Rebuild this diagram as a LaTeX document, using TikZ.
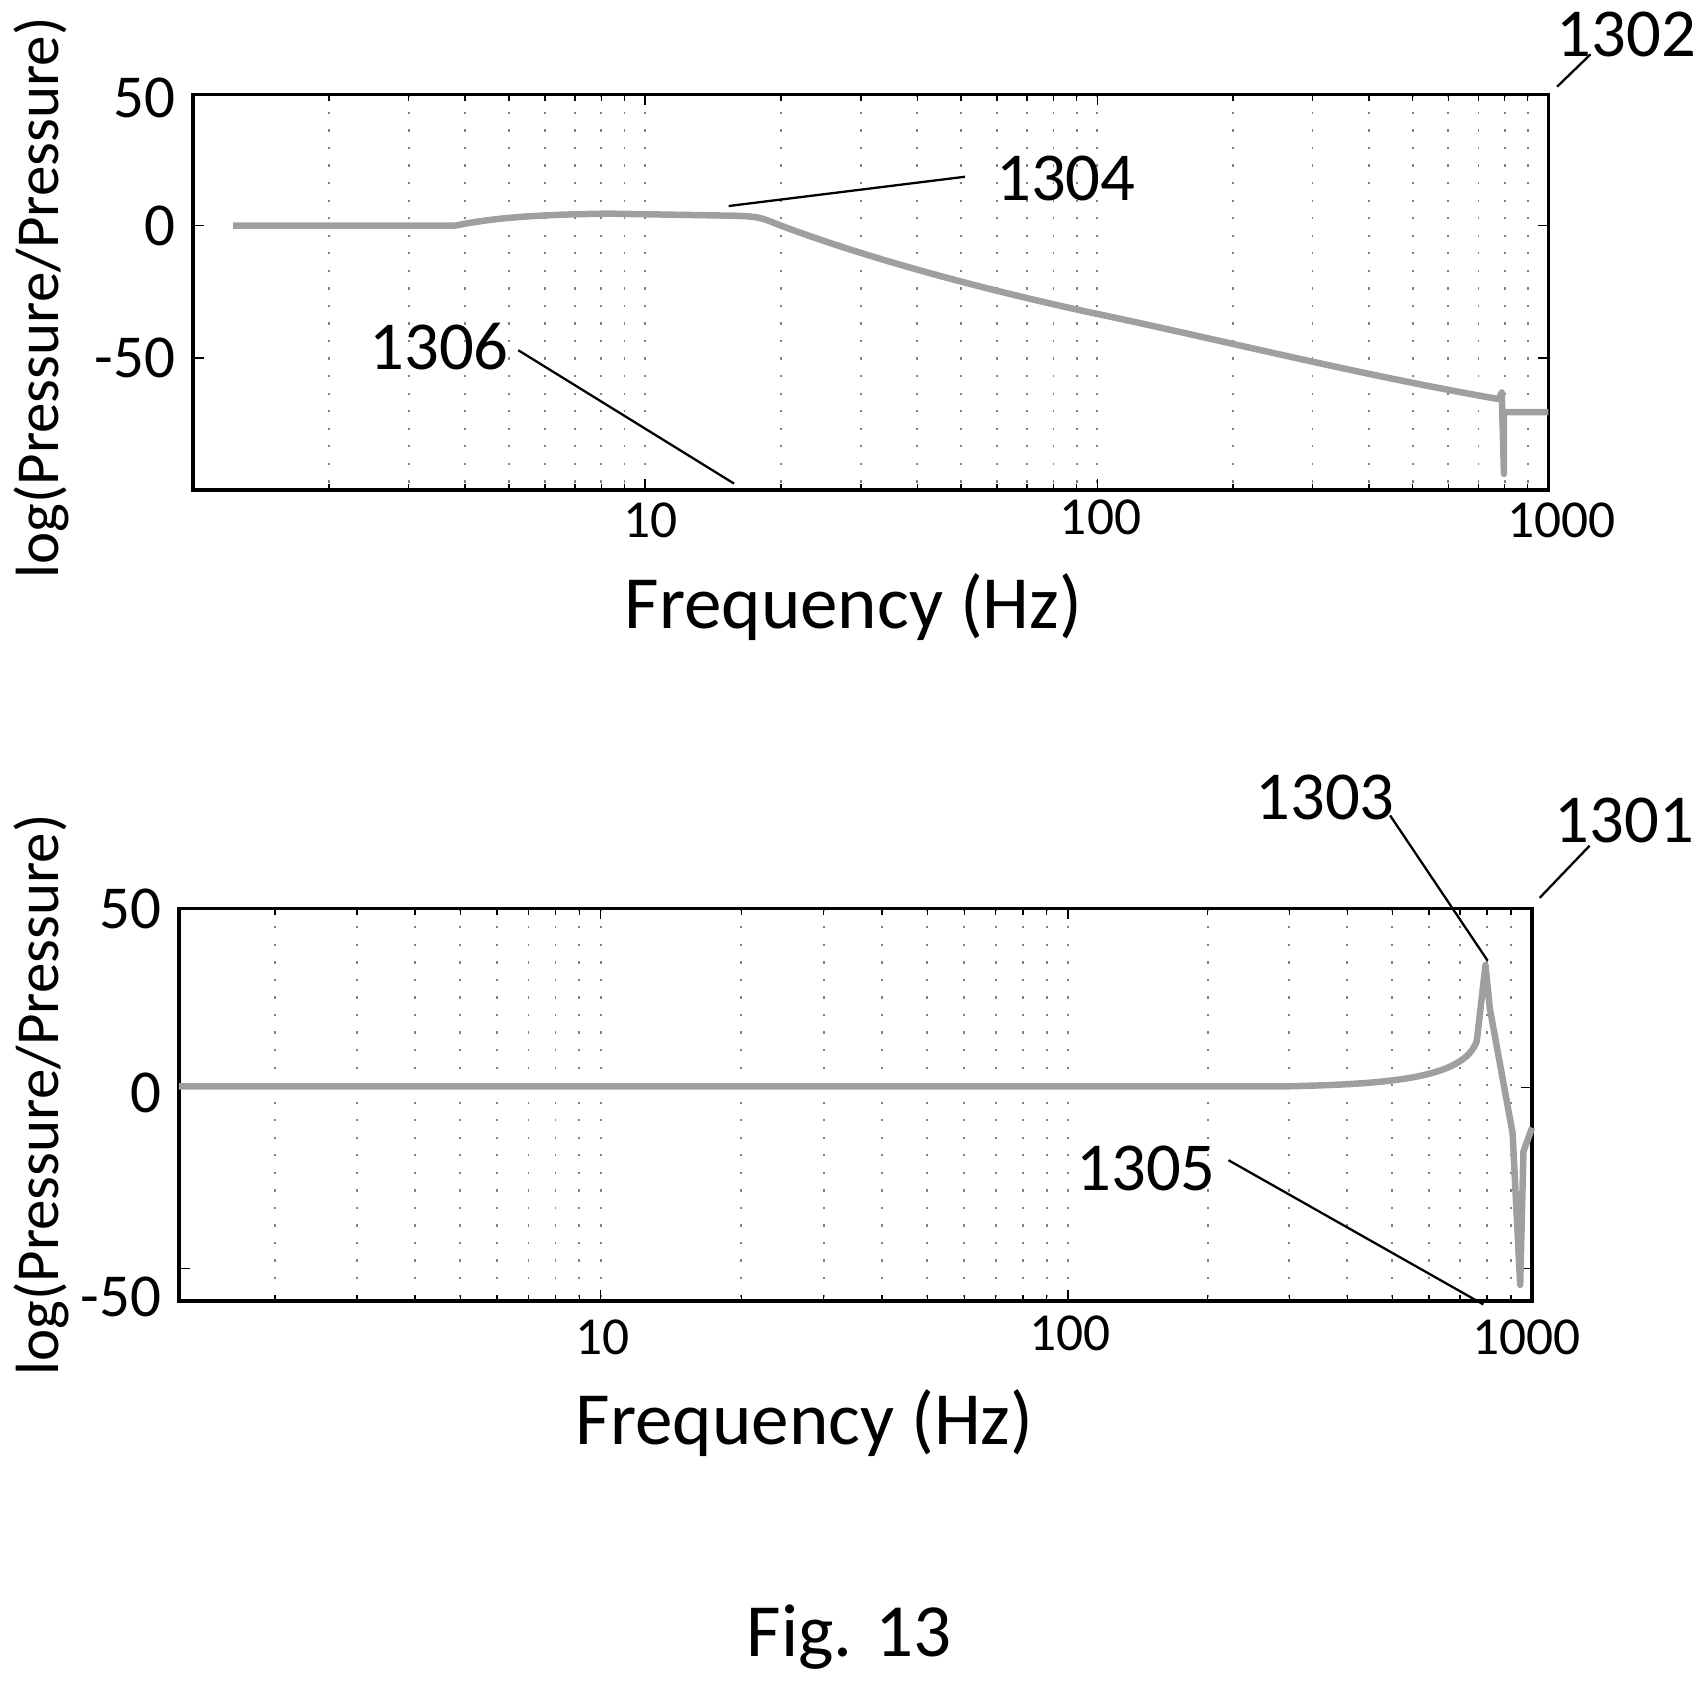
\documentclass[tikz,border=0pt]{standalone}
\usepackage{fontspec}
\setmainfont{Carlito}
\begin{document}
\begin{tikzpicture}[x=0.01cm,y=-0.01cm,
  curve/.style={line width=1.7pt,gray!75,line join=round},
  grid/.style={dash pattern=on 0.6pt off 4pt,gray,line width=0.5pt},
  lead/.style={line width=0.6pt},
  big/.style={font=\fontsize{18}{20}\selectfont},
  tick/.style={font=\fontsize{16}{18}\selectfont},
  xt/.style={font=\fontsize{14}{16}\selectfont},
  axl/.style={font=\fontsize{19.7}{22}\selectfont}]
\useasboundingbox (0,0) rectangle (1566,1551);
% ---------- top plot
\foreach \d/\w in {178/417,595/417,1012/416}{
  \foreach \m in {2,...,9}{
    \draw[grid] ({\d+\w*log10(\m)},87) -- ({\d+\w*log10(\m)},452);
    \draw ({\d+\w*log10(\m)},87) -- ++(0,6) ({\d+\w*log10(\m)},452) -- ++(0,-6);}}
\foreach \x in {595,1012}{\draw[grid] (\x,87)--(\x,452); \draw (\x,87)--++(0,10) (\x,452)--++(0,-10);}
\foreach \y in {208,330}{\draw (178,\y)--++(10,0) (1428,\y)--++(-10,0);}
\draw[line width=0.9pt] (178,87) rectangle (1428,452);
\node[tick,anchor=east] (t50) at (174,90) {50};
\node[tick,anchor=east] (t0) at (174,208) {0};
\node[tick,anchor=east] (tm50) at (174,330) {-50};
\node[xt] (x10) at (600,480) {10};
\node[xt] (x100) at (1015,477) {100};
\node[xt] (x1000) at (1440,480) {1000};
\node[axl] (xl) at (787,560) {Frequency (Hz)};
\node[tick,rotate=90] (yl) at (38,275) {log(Pressure/Pressure)};
\draw[curve] (215,208) -- (420,208) .. controls (460,200) and (500,198) .. (560,197)
  -- (680,199) .. controls (700,200) .. (720,208) .. controls (800,238) and (900,265) .. (1000,287)
  .. controls (1120,312) and (1250,345) .. (1382,368) -- (1385,362) -- (1387,437) -- (1387,380) -- (1428,380);
\node[big] (n1302) at (1500,32) {1302};
\coordinate (c1302) at (1436,80);
\draw[lead] (1467,50) -- (c1302);
\node[big] (n1304) at (983,165) {1304};
\coordinate (c1304) at (672,190);
\draw[lead] (890,163) -- (c1304);
\node[big] (n1306) at (405,320) {1306};
\coordinate (c1306) at (677,446);
\draw[lead] (478,323) -- (c1306);
% ---------- bottom plot
\foreach \d/\w in {124/430,554/431,985/428}{
  \foreach \m in {2,...,9}{
    \draw[grid] ({\d+\w*log10(\m)},838) -- ({\d+\w*log10(\m)},1200);
    \draw ({\d+\w*log10(\m)},838) -- ++(0,6) ({\d+\w*log10(\m)},1200) -- ++(0,-6);}}
\foreach \x in {554,985}{\draw[grid] (\x,838)--(\x,1200); \draw (\x,838)--++(0,10) (\x,1200)--++(0,-10);}
\foreach \y in {1003,1170}{\draw (165,\y)--++(10,0) (1413,\y)--++(-10,0);}
\draw[line width=0.9pt] (165,838) rectangle (1413,1200);
\node[tick,anchor=east] (b50) at (161,838) {50};
\node[tick,anchor=east] (b0) at (161,1008) {0};
\node[tick,anchor=east] (bm50) at (161,1196) {-50};
\node[xt] (bx10) at (556,1233) {10};
\node[xt] (bx100) at (987,1230) {100};
\node[xt] (bx1000) at (1408,1233) {1000};
\node[axl] (bxl) at (742,1312) {Frequency (Hz)};
\node[tick,rotate=90] (byl) at (38,1010) {log(Pressure/Pressure)};
\draw[curve] (165,1002) -- (1180,1002) .. controls (1280,1000) and (1350,995) .. (1362,960)
  -- (1370,890) -- (1374,930) -- (1395,1045) -- (1402,1185) -- (1405,1062) -- (1413,1040);
\node[big] (n1303) at (1222,735) {1303};
\coordinate (c1303) at (1372,886);
\draw[lead] (1282,752) -- (c1303);
\node[big] (n1301) at (1498,757) {1301};
\coordinate (c1301) at (1420,828);
\draw[lead] (1466,780) -- (c1301);
\node[big] (n1305) at (1057,1078) {1305};
\coordinate (c1305) at (1368,1203);
\draw[lead] (1133,1070) -- (c1305);
\node[axl] (fig) at (783,1510) {Fig. 13};
\end{tikzpicture}
\end{document}
